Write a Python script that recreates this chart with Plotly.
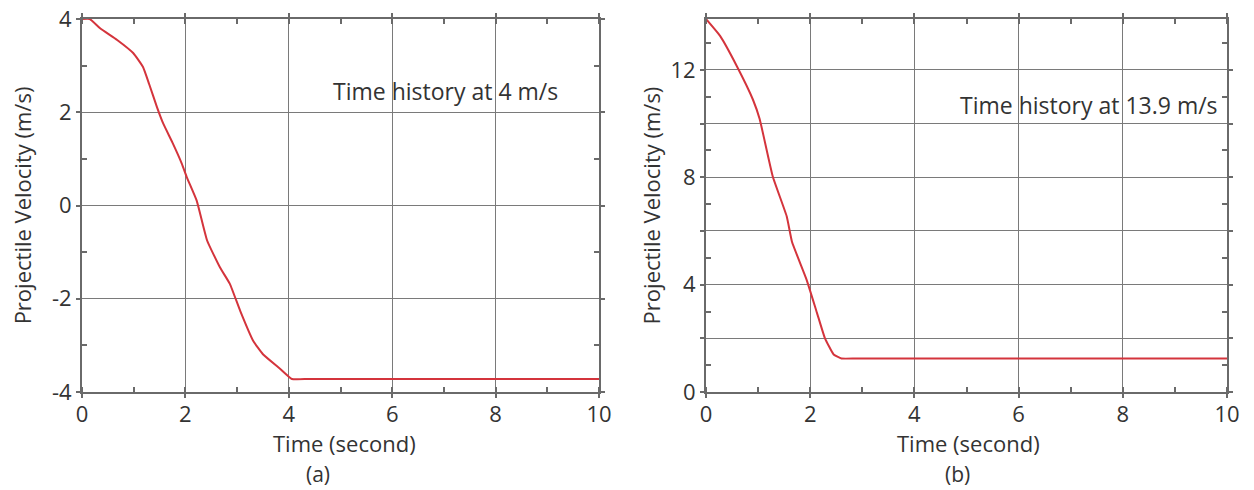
import plotly.graph_objects as go

# ---- data ----
t_a = [0, 0.15, 0.35, 0.68, 0.99, 1.18, 1.3, 1.45, 1.57, 1.75, 1.93, 2.03, 2.22, 2.42, 2.67, 2.86, 3.06, 3.31, 3.5, 3.83, 4.06, 4.4, 10]
v_a = [4, 4, 3.8, 3.55, 3.27, 2.97, 2.6, 2.11, 1.76, 1.35, 0.9, 0.6, 0.1, -0.75, -1.33, -1.68, -2.26, -2.9, -3.19, -3.5, -3.72, -3.72, -3.72]

t_b = [0, 0.27, 0.59, 0.9, 1.03, 1.28, 1.55, 1.65, 1.93, 2.13, 2.28, 2.45, 2.6, 2.9, 10]
v_b = [13.9, 13.27, 12.15, 10.9, 10.17, 8.04, 6.54, 5.6, 4.19, 2.95, 2.02, 1.4, 1.25, 1.25, 1.25]

x_ticks = [0, 2, 4, 6, 8, 10]
ya_ticks = [-4, -2, 0, 2, 4]
yb_ticks = [0, 2, 4, 6, 8, 10, 12]
yb_text = ["0", "", "4", "", "8", "", "12"]

label_a = "Time history at 4 m/s"
label_b = "Time history at 13.9 m/s"
x_title = "Time (second)"
y_title = "Projectile Velocity (m/s)"

W, H = 1254, 490
RED = "#d4343c"
GRID = "#7a7a7a"
AXIS = "#6a6a6a"
TXT = "#333333"
FONT = "Open Sans"

fig = go.Figure()
fig.add_trace(go.Scatter(x=t_a, y=v_a, mode="lines", line=dict(color=RED, width=2, shape="spline", smoothing=0.4),
                         xaxis="x", yaxis="y", showlegend=False))
fig.add_trace(go.Scatter(x=t_b, y=v_b, mode="lines", line=dict(color=RED, width=2, shape="spline", smoothing=0.4),
                         xaxis="x2", yaxis="y2", showlegend=False))

def xax(domain, anchor):
    return dict(domain=domain, anchor=anchor, range=[0, 10], tickvals=x_ticks,
                showgrid=True, gridcolor=GRID, gridwidth=1.3,
                showline=True, linecolor=AXIS, linewidth=2, mirror="ticks",
                ticks="outside", ticklen=4, tickcolor=AXIS, tickwidth=1.5,
                ticklabelstandoff=-2,
                minor=dict(dtick=1, tick0=1, ticks="inside", ticklen=5, tickcolor=AXIS, showgrid=False),
                tickfont=dict(family=FONT, size=22, color=TXT),
                zeroline=False, automargin=False, fixedrange=True)

def yax(domain, anchor, rng, tv, tt, standoff):
    return dict(domain=domain, anchor=anchor, range=rng, tickvals=tv, ticktext=tt,
                showgrid=True, gridcolor=GRID, gridwidth=1.3,
                showline=True, linecolor=AXIS, linewidth=2, mirror="ticks",
                ticks="outside", ticklen=4, tickcolor=AXIS, tickwidth=1.5,
                minor=dict(dtick=2, tick0=1, ticks="inside", ticklen=5, tickcolor=AXIS, showgrid=False),
                tickfont=dict(family=FONT, size=22, color=TXT),
                title=dict(text=y_title, font=dict(family=FONT, size=22, color=TXT), standoff=standoff),
                zeroline=False, automargin=False, fixedrange=True)

ydom = [1 - 392 / H, 1 - 19 / H]

def paper_text(xpx, ypx, text, size=22):
    return dict(x=xpx / W, y=1 - ypx / H, xref="paper", yref="paper", text=text, showarrow=False,
                xanchor="center", yanchor="middle", font=dict(family=FONT, size=size, color=TXT))

fig.update_layout(
    width=W, height=H,
    margin=dict(l=0, r=0, t=0, b=0),
    paper_bgcolor="white", plot_bgcolor="white",
    xaxis=xax([82 / W, 599 / W], "y"),
    yaxis=yax(ydom, "x", [-4, 4], ya_ticks, [str(v) for v in ya_ticks], 14),
    xaxis2=xax([706 / W, 1227 / W], "y2"),
    yaxis2=yax(ydom, "x2", [0, 13.9], yb_ticks, yb_text, 4),
    annotations=[
        dict(x=7.04, y=2.45, xref="x", yref="y", text=label_a, showarrow=False,
             font=dict(family=FONT, size=23, color=TXT)),
        dict(x=7.36, y=10.7, xref="x2", yref="y2", text=label_b, showarrow=False,
             font=dict(family=FONT, size=23, color=TXT)),
        paper_text(344, 443, x_title),
        paper_text(968, 443, x_title),
        paper_text(318, 474, "(a)", 21),
        paper_text(958, 474, "(b)", 21),
    ],
)

fig.write_html("out.html")
